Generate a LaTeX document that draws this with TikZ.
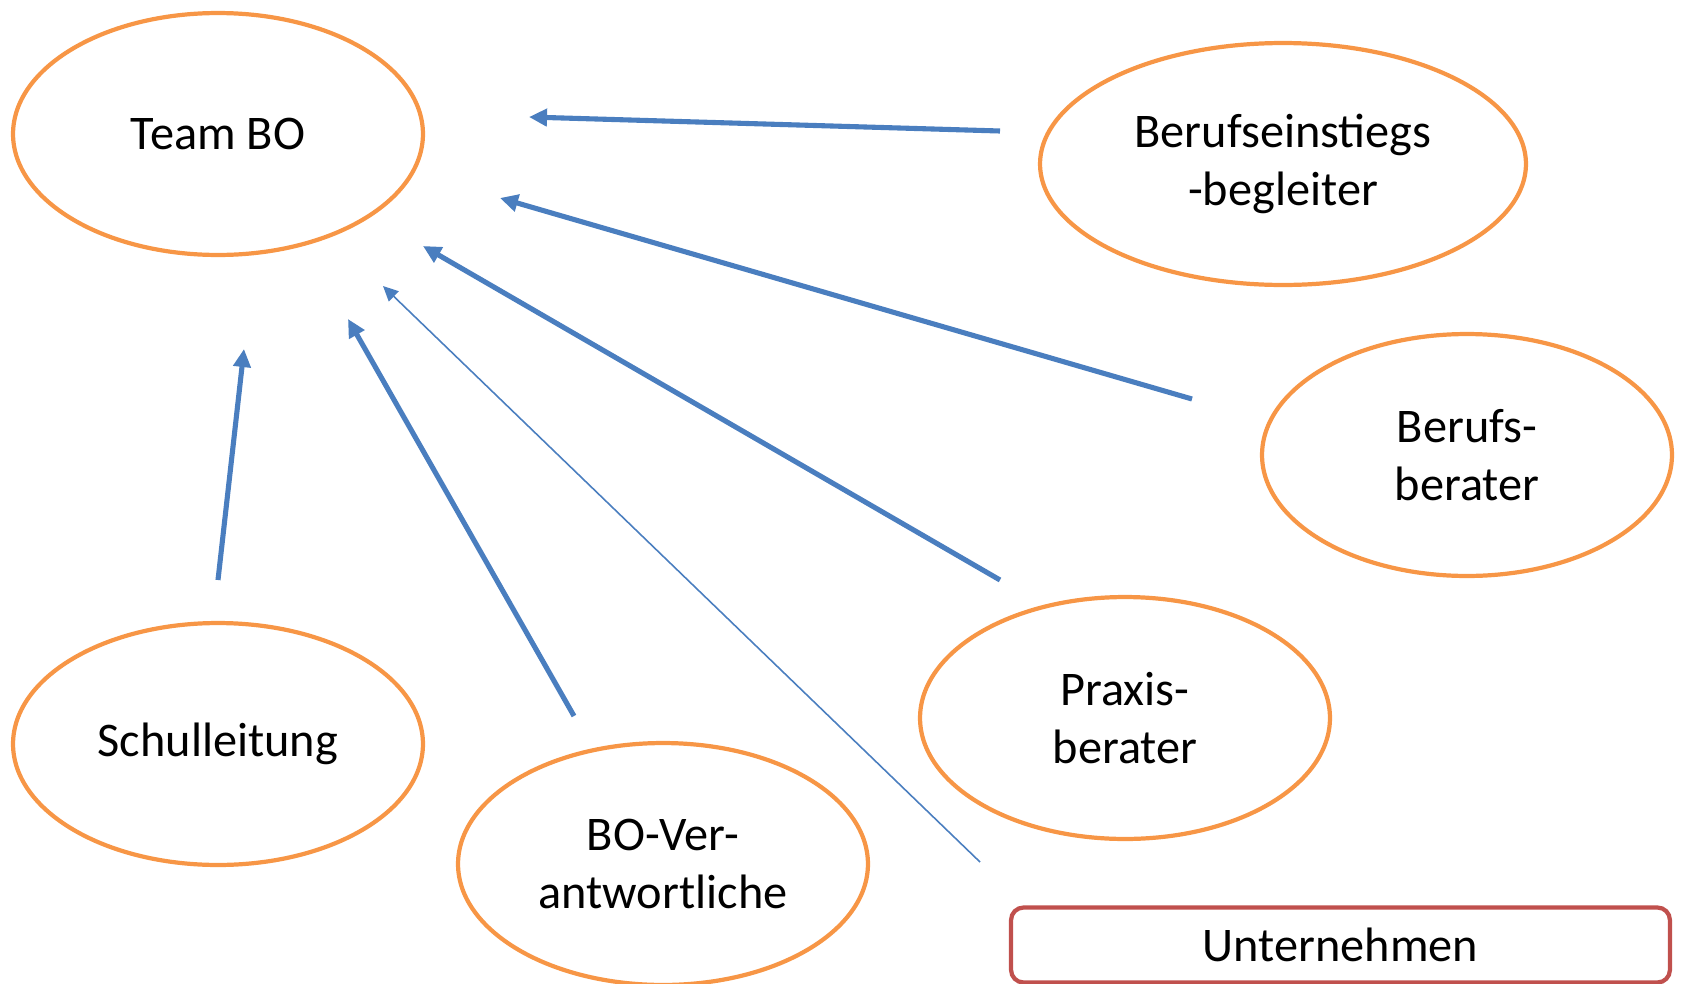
\documentclass[tikz,border=0pt]{standalone}
\usepackage{fontspec}
\setmainfont{Carlito}
\usetikzlibrary{shapes.geometric,arrows.meta}

\definecolor{boorange}{HTML}{F79646}
\definecolor{boblue}{HTML}{4A7EBF}
\definecolor{bored}{HTML}{C0504D}

\begin{document}
\begin{tikzpicture}[x=0.02cm,y=-0.02cm,
    role/.style={ellipse,draw=boorange,line width=2.4pt,inner sep=0pt,
        minimum width=8.2cm,minimum height=4.84cm,align=center,
        font=\fontsize{27.5}{33}\selectfont},
    firm/.style={rectangle,rounded corners=0.25cm,draw=bored,line width=2.4pt,
        minimum width=13.18cm,minimum height=1.5cm,
        font=\fontsize{27.5}{33}\selectfont},
    link/.style={draw=boblue,line width=2.9pt,-{Triangle[length=0.36cm,width=0.34cm]}},
    thinlink/.style={draw=boblue,line width=0.9pt,-{Triangle[length=0.3cm,width=0.28cm]}}]

        \useasboundingbox (0,0) rectangle (1681,984);

        % Roles
        \node[role] (team) at (218,134) {Team BO};
        \node[role,minimum width=9.72cm] (einstieg) at (1283,164) {Berufseinstiegs\\-begleiter};
        \node[role] (berufsb) at (1467,455) {Berufs-\\berater};
        \node[role] (praxis) at (1125,718) {Praxis-\\berater};
        \node[role] (leitung) at (218,744) {Schulleitung};
        \node[role] (verantw) at (663,864) {BO-Ver-\\antwortliche};

        % Company
        \node[firm] (firma) at (1340.5,945) {Unternehmen};

        % Arrow ends (free, near the nodes)
        \coordinate (einstiegS) at (1000,131);  \coordinate (einstiegE) at (529,117);
        \coordinate (berufsbS) at (1192,399);   \coordinate (berufsbE) at (500,198);
        \coordinate (praxisS) at (1000,580);    \coordinate (praxisE) at (423,246);
        \coordinate (firmaS) at (980,862);      \coordinate (firmaE) at (383,286);
        \coordinate (verantwS) at (574,716);    \coordinate (verantwE) at (348,319);
        \coordinate (leitungS) at (218,580);    \coordinate (leitungE) at (244,349);

        % Arrows towards Team BO
        \draw[link] (einstiegS) -- (einstiegE);
        \draw[link] (berufsbS) -- (berufsbE);
        \draw[link] (praxisS) -- (praxisE);
        \draw[thinlink] (firmaS) -- (firmaE);
        \draw[link] (verantwS) -- (verantwE);
        \draw[link] (leitungS) -- (leitungE);

    \end{tikzpicture}
\end{document}
